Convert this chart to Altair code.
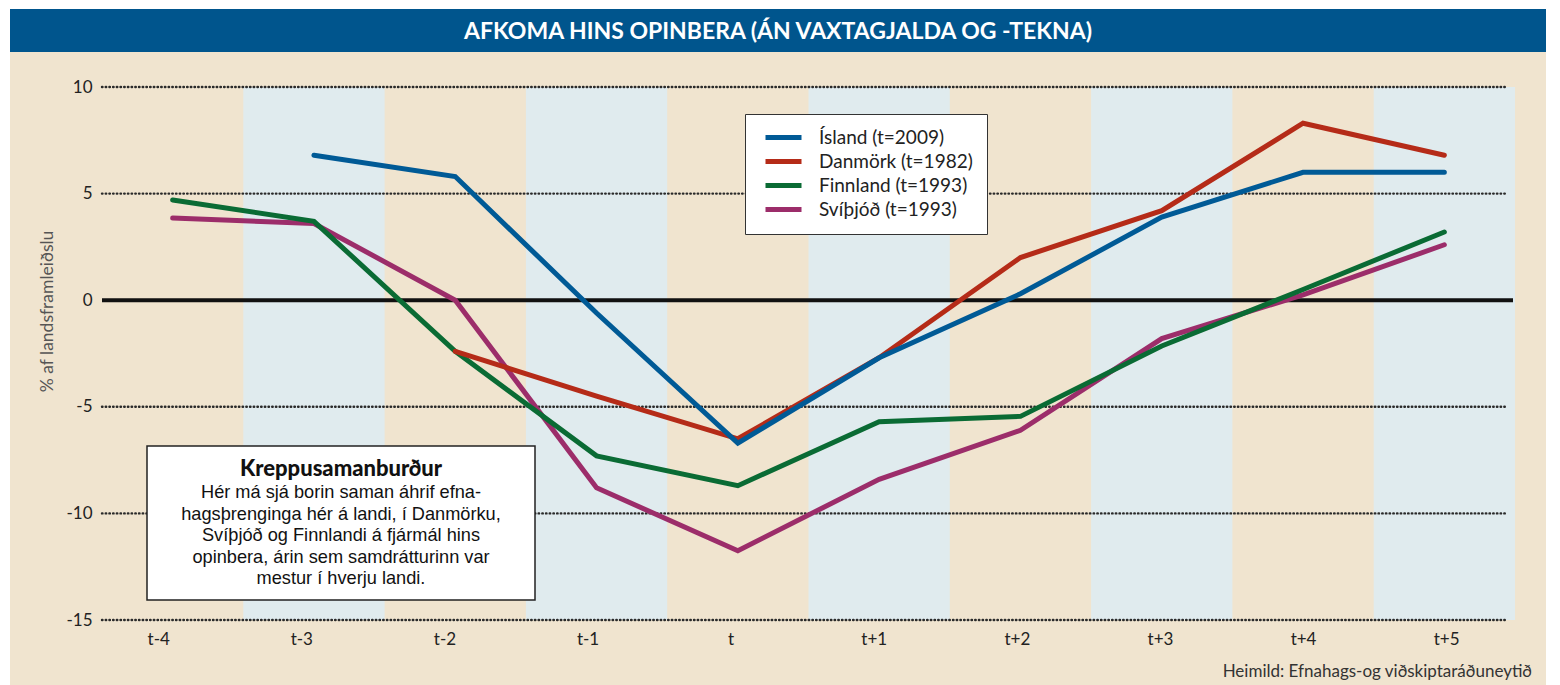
import altair as alt
import pandas as pd

# ---------------- data ----------------
categories = ["t-4", "t-3", "t-2", "t-1", "t", "t+1", "t+2", "t+3", "t+4", "t+5"]
island = [None, 6.8, 5.8, -0.6, -6.7, -2.7, 0.3, 3.9, 6.0, 6.0]
danmork = [None, None, -2.4, -4.5, -6.5, -2.7, 2.0, 4.2, 8.3, 6.8]
finnland = [4.7, 3.7, -2.4, -7.3, -8.7, -5.7, -5.45, -2.15, 0.5, 3.2]
svithjod = [3.85, 3.6, 0.0, -8.8, -11.75, -8.4, -6.1, -1.8, 0.25, 2.6]

series_names = ["Ísland (t=2009)", "Danmörk (t=1982)", "Finnland (t=1993)", "Svíþjóð (t=1993)"]
series_colors = ["#005a96", "#b52b18", "#0a6b34", "#9c2d6a"]

y_ticks = [-15, -10, -5, 0, 5, 10]
grid_values = [10, 5, -5, -10, -15]
shaded_columns = [1, 3, 5, 7, 9]

title_text = "AFKOMA HINS OPINBERA (ÁN VAXTAGJALDA OG -TEKNA)"
y_title = "% af landsframleiðslu"
note_title = "Kreppusamanburður"
note_lines = [
    "Hér má sjá borin saman áhrif efna-",
    "hagsþrenginga hér á landi, í Danmörku,",
    "Svíþjóð og Finnlandi á fjármál hins",
    "opinbera, árin sem samdrátturinn var",
    "mestur í hverju landi.",
]
source_text = "Heimild: Efnahags-og viðskiptaráðuneytið"

# ---------------- tables ----------------
rows = []
series_values = [island, danmork, finnland, svithjod]
for name, vals in reversed(list(zip(series_names, series_values))):
    for i, v in enumerate(vals):
        if v is not None:
            rows.append({"idx": i, "cat": categories[i], "series": name, "value": v})
df = pd.DataFrame(rows)
labels_df = pd.DataFrame({"idx": list(range(len(categories))), "cat": categories})
bands_df = pd.DataFrame({"idx": shaded_columns})
grid_df = pd.DataFrame({"v": grid_values})
one = pd.DataFrame({"k": [0]})

FONT = "Lato"
NOTE_FONT = "Liberation Sans"
BEIGE = "#f0e4cf"
BAND = "#e0ebee"
BAR = "#00558d"
W, H = 1413, 533

xdom = [-0.5, 9.5]
ydom = [-15, 10]


def xs():
    return alt.Scale(domain=xdom, nice=False, zero=False)


def ys():
    return alt.Scale(domain=ydom, nice=False, zero=False)


def yaxis():
    return alt.Axis(
        values=y_ticks,
        labelExpr="'' + datum.value",
        title=y_title,
        titleFont=FONT,
        titleFontSize=17.5,
        titleFontWeight="normal",
        titleColor="#555555",
        titleAngle=270,
        titleX=-55,
        titleY=224,
        titleAlign="center",
        titleBaseline="middle",
        labelFont=FONT,
        labelFontSize=17,
        labelColor="#222222",
        labelPadding=10,
        ticks=False,
        domain=False,
        grid=False,
        zindex=1,
    )


# background & title bar
bg = alt.Chart(one).mark_rect(color=BEIGE).encode(
    x=alt.value(-92), x2=alt.value(1444), y=alt.value(-35), y2=alt.value(H + 70)
)
bar = alt.Chart(one).mark_rect(color=BAR).encode(
    x=alt.value(-92), x2=alt.value(1444), y=alt.value(-78), y2=alt.value(-35)
)
title = alt.Chart(one).mark_text(
    color="white", font=FONT, fontSize=23, fontWeight="bold", align="center", baseline="middle"
).encode(x=alt.value(676), y=alt.value(-55), text=alt.value(title_text))

# shaded columns
bands = alt.Chart(bands_df).transform_calculate(
    x0="datum.idx - 0.5", x1="datum.idx + 0.5"
).mark_rect(color=BAND).encode(
    x=alt.X("x0:Q", scale=xs(), axis=None),
    x2="x1:Q",
    y=alt.YDatum(10, type="quantitative", scale=ys(), axis=yaxis()),
    y2=alt.Y2Datum(-15),
)

# dotted grid
grid = alt.Chart(grid_df).mark_rule(
    color="#2a2a2a", strokeWidth=2.4, strokeDash=[0.5, 3.2], strokeCap="round"
).encode(
    y=alt.Y("v:Q", scale=ys(), axis=yaxis()),
    x=alt.value(0),
    x2=alt.value(1405),
)

zero = alt.Chart(one).mark_rule(color="#111111", strokeWidth=4).encode(
    y=alt.YDatum(0, type="quantitative", scale=ys(), axis=yaxis()),
    x=alt.value(0),
    x2=alt.value(1411),
)

# lines
lines = alt.Chart(df).mark_line(strokeWidth=5, strokeCap="round", strokeJoin="miter").encode(
    x=alt.X("idx:Q", scale=xs(), axis=None),
    y=alt.Y("value:Q", scale=ys(), axis=yaxis()),
    color=alt.Color(
        "series:N",
        scale=alt.Scale(domain=series_names, range=series_colors),
        legend=alt.Legend(
            title=None,
            orient="none",
            legendX=643,
            legendY=27,
            direction="vertical",
            fillColor="white",
            strokeColor="#333333",
            padding=14,
            cornerRadius=0,
            symbolType="M-0.5,0H5.5",
            symbolSize=144,
            symbolStrokeWidth=5,
            labelFont=FONT,
            labelFontSize=19,
            labelColor="#222222",
            labelOffset=41,
            rowPadding=3,
        ),
    ),
)

# category axis (labels sit slightly left of the column centres in the original)
label_expr = "[" + ",".join("'%s'" % c for c in categories) + "][datum.value]"
xlabels = alt.Chart(labels_df).mark_point(opacity=0).encode(
    x=alt.X(
        "idx:Q",
        scale=alt.Scale(domain=[-0.393, 9.481], nice=False, zero=False),
        axis=alt.Axis(
            orient="bottom",
            values=list(range(len(categories))),
            labelExpr=label_expr,
            title=None,
            labelFont=FONT,
            labelFontSize=17,
            labelColor="#222222",
            labelPadding=11,
            ticks=False,
            domain=False,
            grid=False,
            zindex=1,
        ),
    )
)

# note box
note_box = alt.Chart(one).mark_rect(fill="white", stroke="#222222", strokeWidth=1.5).encode(
    x=alt.value(45), x2=alt.value(433), y=alt.value(359), y2=alt.value(513)
)
note_head = alt.Chart(one).mark_text(
    font=FONT, fontSize=22, fontWeight=900, color="#111111", align="center", baseline="middle"
).encode(x=alt.value(239), y=alt.value(382), text=alt.value(note_title))
note_body = alt.Chart(one).mark_text(
    font=NOTE_FONT, fontSize=18.2, color="#111111", align="center", baseline="middle", lineHeight=21.5
).encode(x=alt.value(239), y=alt.value(406), text=alt.value(note_lines))

source = alt.Chart(one).mark_text(
    font=FONT, fontSize=17, color="#333333", align="right", baseline="middle"
).encode(x=alt.value(1430), y=alt.value(585), text=alt.value(source_text))

chart = (
    alt.layer(bg, bar, title, bands, grid, zero, lines, xlabels, note_box, note_head, note_body, source)
    .resolve_scale(x="independent")
    .properties(
        width=W,
        height=H,
        autosize=alt.AutoSizeParams(type="none"),
        padding={"left": 94, "top": 79, "right": 37, "bottom": 65},
    )
    .configure(font=FONT, background="white")
    .configure_view(strokeWidth=0)
)

chart.save("out.html", embed_options={"renderer": "svg", "actions": False})
